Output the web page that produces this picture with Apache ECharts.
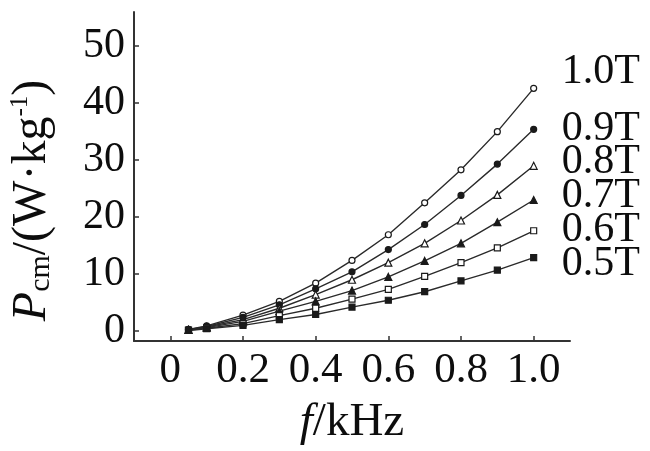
<!DOCTYPE html>
<html>
<head>
<meta charset="utf-8">
<script src="https://cdn.jsdelivr.net/npm/echarts@6/dist/echarts.min.js"></script>
<style>html,body{margin:0;padding:0;background:#fff}#c{width:650px;height:451px}</style>
</head>
<body>
<div id="c"></div>
<script>
var freq = [0.05, 0.1, 0.2, 0.3, 0.4, 0.5, 0.6, 0.7, 0.8, 0.9, 1.0];
var seriesNames = ['1.0T', '0.9T', '0.8T', '0.7T', '0.6T', '0.5T'];
var p10 = [0.3, 0.9, 2.8, 5.2, 8.4, 12.4, 16.9, 22.5, 28.3, 35.0, 42.6];
var p09 = [0.25, 0.8, 2.4, 4.6, 7.4, 10.4, 14.3, 18.7, 23.8, 29.3, 35.4];
var p08 = [0.2, 0.7, 2.0, 4.0, 6.4, 9.0, 12.0, 15.4, 19.4, 23.9, 29.0];
var p07 = [0.2, 0.6, 1.7, 3.5, 5.2, 7.1, 9.5, 12.3, 15.4, 19.1, 23.0];
var p06 = [0.15, 0.5, 1.3, 2.7, 4.0, 5.6, 7.3, 9.6, 12.0, 14.6, 17.6];
var p05 = [0.1, 0.4, 1.0, 2.0, 2.9, 4.2, 5.4, 6.9, 8.8, 10.7, 12.9];
var xTicks = [0, 0.2, 0.4, 0.6, 0.8, 1.0];
var yTicks = [0, 10, 20, 30, 40, 50];

var allValues = [p10, p09, p08, p07, p06, p05];
var symbols = ['circle', 'circle', 'triangle', 'triangle', 'rect', 'rect'];
var filled = [false, true, false, true, false, true];
var labelDy = [-16, 0, -4, -4, -1, 6];

var font = 'Liberation Serif';
var ink = '#0d0d0d';

var series = seriesNames.map(function (name, i) {
  return {
    name: name,
    type: 'line',
    data: freq.map(function (f, j) { return [f, allValues[i][j]]; }),
    symbol: symbols[i],
    symbolSize: symbols[i] === 'triangle' ? 7 : 6,
    showSymbol: true,
    lineStyle: { color: '#2a2a2a', width: 1.4 },
    itemStyle: { color: filled[i] ? '#1a1a1a' : '#fff', borderColor: '#1a1a1a', borderWidth: 1.2 },
    endLabel: {
      show: true,
      formatter: name,
      fontFamily: font,
      fontSize: 42,
      color: ink,
      distance: 5,
      offset: [23, labelDy[i]]
    },
    animation: false,
    z: 3
  };
});

var chart = echarts.init(document.getElementById('c'), null, { renderer: 'canvas' });
chart.setOption({
  backgroundColor: '#fff',
  animation: false,
  grid: { left: 129, right: 80, top: 12, bottom: 106, containLabel: false },
  xAxis: {
    type: 'value',
    min: -0.1,
    max: 1.1,
    name: '{i|f}{n|/kHz}',
    nameLocation: 'middle',
    nameGap: 58,
    nameTextStyle: {
      rich: {
        i: { fontFamily: font, fontSize: 47, fontStyle: 'italic', color: ink },
        n: { fontFamily: font, fontSize: 47, color: ink }
      }
    },
    axisLine: { show: true, onZero: false, lineStyle: { color: '#333', width: 2 } },
    axisTick: { show: true, inside: true, length: 5, customValues: xTicks, lineStyle: { color: '#333', width: 1.5 } },
    axisLabel: {
      customValues: xTicks,
      margin: 8,
      fontFamily: font,
      fontSize: 43,
      color: ink,
      formatter: function (v) { return v === 0 ? '0' : v.toFixed(1); }
    },
    splitLine: { show: false }
  },
  yAxis: {
    type: 'value',
    min: -1.75,
    max: 56,
    name: '{i|P}{sub|cm}{n|/(W·kg}{sup|-1}{n|)}',
    nameLocation: 'middle',
    nameRotate: 90,
    nameGap: 78,
    nameTextStyle: {
      padding: [0, 48, 0, 0],
      rich: {
        i: { fontFamily: font, fontSize: 48, fontStyle: 'italic', color: ink, lineHeight: 48 },
        sub: { fontFamily: font, fontSize: 30, color: ink, verticalAlign: 'bottom', lineHeight: 30 },
        sup: { fontFamily: font, fontSize: 25, color: ink, verticalAlign: 'top', lineHeight: 25 },
        n: { fontFamily: font, fontSize: 48, color: ink, lineHeight: 48 }
      }
    },
    axisLine: { show: true, onZero: false, lineStyle: { color: '#333', width: 2 } },
    axisTick: { show: true, inside: true, length: 5, customValues: yTicks, lineStyle: { color: '#333', width: 1.5 } },
    axisLabel: {
      customValues: yTicks,
      margin: 9,
      fontFamily: font,
      fontSize: 42,
      color: ink
    },
    splitLine: { show: false }
  },
  series: series
});
</script>
</body>
</html>
